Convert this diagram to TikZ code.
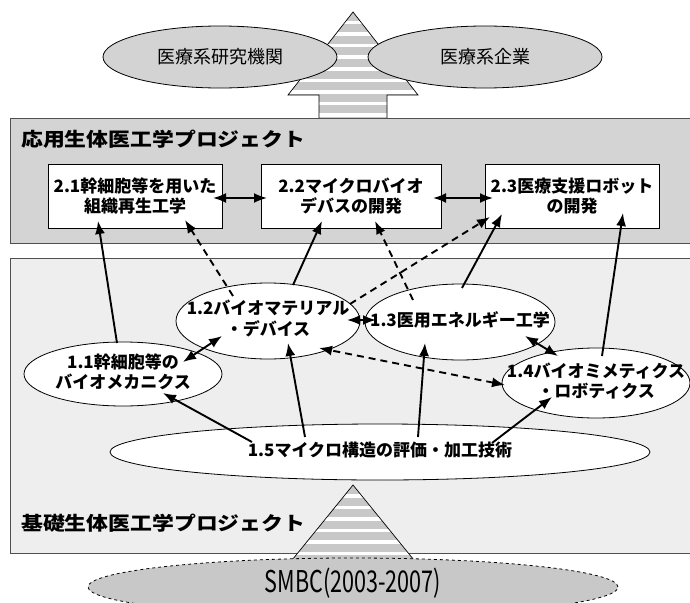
\documentclass[tikz,border=0pt]{standalone}
\usepackage{fontspec}
\usepackage{graphicx}
\setmainfont{Noto Sans CJK JP}
\usetikzlibrary{arrows.meta,calc,shapes.geometric}
\definecolor{upbox}{HTML}{D4D4D4}
\definecolor{lowbox}{HTML}{EEEEEE}
\definecolor{ellg}{HTML}{D3D3D3}
\definecolor{stripe}{HTML}{C8C8C8}
\definecolor{smbcfill}{HTML}{C8C8C8}
\definecolor{panelline}{HTML}{505050}
\newcommand\ztxt[1]{\makebox[0pt]{\begin{tabular}{@{}c@{}}#1\end{tabular}}}
\begin{document}
\begin{tikzpicture}[x=1pt,y=-1pt,
  panel/.style={draw=panelline, line width=1.1pt, rectangle, inner sep=0pt, anchor=north west},
  ptitle/.style={anchor=west, font=\fontsize{19}{22}\selectfont\bfseries, inner sep=0pt},
  abox/.style={draw, fill=white, line width=0.9pt, rectangle, minimum width=174pt, minimum height=64pt, align=center, font=\fontsize{17}{20}\selectfont\bfseries, inner sep=0pt},
  bell/.style={draw, fill=white, line width=0.8pt, ellipse, inner sep=0pt, font=\fontsize{17}{20}\selectfont\bfseries},
  topell/.style={draw, fill=ellg, line width=0.8pt, ellipse, inner sep=0pt, minimum width=234pt, minimum height=62pt, font=\fontsize{18}{20}\selectfont},
  conn/.style={line width=1.9pt, -{Latex[length=13pt,width=10pt]}},
  bidir/.style={line width=1.9pt, {Latex[length=13pt,width=10pt]}-{Latex[length=13pt,width=10pt]}},
  dsh/.style={dash pattern=on 7pt off 5pt}
]
\useasboundingbox (0,0) rectangle (690,602);
\fill[white] (0,0) rectangle (690,602);

% ---- top striped arrow ----
\begin{scope}
\clip (353,12) -- (418,95) -- (387,95) -- (387,118) -- (319,118) -- (319,95) -- (288,95) -- cycle;
\fill[white] (280,0) rectangle (430,120);
\foreach \yy in {13,24.5,...,120} {\fill[stripe] (280,\yy) rectangle (430,\yy+8);}
\end{scope}
\draw[line width=0.7pt] (319,118) -- (319,95) -- (288,95) -- (353,12) -- (418,95) -- (387,95) -- (387,118);

\node[topell] (org1) at (220,57) {医療系研究機関};
\node[topell] (org2) at (485,57) {医療系企業};

% ---- panels ----
\node[panel, fill=upbox, minimum width=684pt, minimum height=125pt] (upper) at (10,118) {};
\node[panel, fill=lowbox, minimum width=684pt, minimum height=295pt] (lower) at (10,258) {};
\node[ptitle] (uptitle) at (21,139) {\scalebox{1.15}[1]{応用生体医工学プロジェクト}};
\node[ptitle] (lowtitle) at (21,523) {\scalebox{1.15}[1]{基礎生体医工学プロジェクト}};

% ---- applied boxes ----
\node[abox] (b21) at (135,196) {2.1幹細胞等を用いた\\組織再生工学};
\node[abox, minimum width=180pt] (b22) at (351,196) {2.2マイクロバイオ\\デバスの開発};
\node[abox] (b23) at (572,196) {2.3医療支援ロボット\\の開発};

% ---- basic ellipses ----
\node[bell, minimum width=540pt, minimum height=56pt] (e15) at (380,452) {\ztxt{1.5マイクロ構造の評価・加工技術}};
\node[bell, minimum width=198pt, minimum height=64pt] (e11) at (123,374) {\ztxt{1.1幹細胞等の\\バイオメカニクス}};
\node[bell, minimum width=184pt, minimum height=76pt] (e12) at (268,321) {\ztxt{1.2バイオマテリアル\\・デバイス}};
\node[bell, minimum width=190pt, minimum height=76pt] (e13) at (460,322) {\ztxt{1.3医用エネルギー工学}};
\node[bell, minimum width=188pt, minimum height=70pt] (e14) at (596,383) {\ztxt{1.4バイオミメティクス\\・ロボティクス}};

% ---- solid arrows ----
\draw[conn] ($(e11)+(-6,-31)$) -- ($(b21)+(-37,25)$);
\draw[conn] ($(e12)+(25,-36)$) -- ($(b22)+(-29,25)$);
\draw[conn] ($(e13)+(2,-34)$) -- ($(b23)+(-70,18)$);
\draw[conn] ($(e14)+(6,-27)$) -- ($(b23)+(51,17)$);
\draw[conn] ($(e15)+(-128,-10)$) -- ($(e11)+(40,19)$);
\draw[conn] ($(e15)+(-75,-15)$) -- ($(e12)+(20,22)$);
\draw[conn] ($(e15)+(38,-15)$) -- ($(e13)+(-35,21)$);
\draw[conn] ($(e15)+(112,-9)$) -- ($(e14)+(-44,14)$);

% ---- double arrows ----
\draw[bidir] ($(b21)+(78,2)$) -- ($(b22)+(-84,2)$);
\draw[bidir] ($(b22)+(82,2)$) -- ($(b23)+(-79,2)$);
\draw[bidir] ($(e12)+(79,-1)$) -- ($(e13)+(-84,-2)$);
\draw[bidir] ($(e11)+(60,-12)$) -- ($(e12)+(-46,15)$);
\draw[bidir] ($(e13)+(65,14)$) -- ($(e14)+(-38,-27)$);

% ---- dashed arrows ----
\draw[conn, dsh] ($(e12)+(-35,-25)$) -- ($(b21)+(50,24)$);
\draw[conn, dsh] ($(e13)+(-47,-22)$) -- ($(b22)+(24,25)$);
\draw[conn, dsh] ($(e12)+(82,-17)$) -- ($(b23)+(-82,21)$);
\draw[bidir, dsh] ($(e14)+(-91,2)$) -- ($(e12)+(51,27)$);

% ---- bottom striped arrow ----
\begin{scope}
\clip (353,485) -- (418,565) -- (387,565) -- (387,602) -- (319,602) -- (319,565) -- (288,565) -- cycle;
\fill[white] (280,480) rectangle (430,602);
\foreach \yy in {486,497.5,...,602} {\fill[stripe] (280,\yy) rectangle (430,\yy+8);}
\end{scope}
\draw[line width=0.7pt] (319,602) -- (319,565) -- (288,565) -- (353,485) -- (418,565) -- (387,565) -- (387,602);

\node[draw, dashed, fill=smbcfill, line width=0.8pt, ellipse, minimum width=530pt, minimum height=58pt, inner sep=0pt] (smbc) at (353,587) {};
\node[font=\fontsize{30}{32}\selectfont, inner sep=0pt] (smbctext) at (353,583) {\scalebox{0.72}[1]{SMBC(2003-2007)}};
\end{tikzpicture}
\end{document}
